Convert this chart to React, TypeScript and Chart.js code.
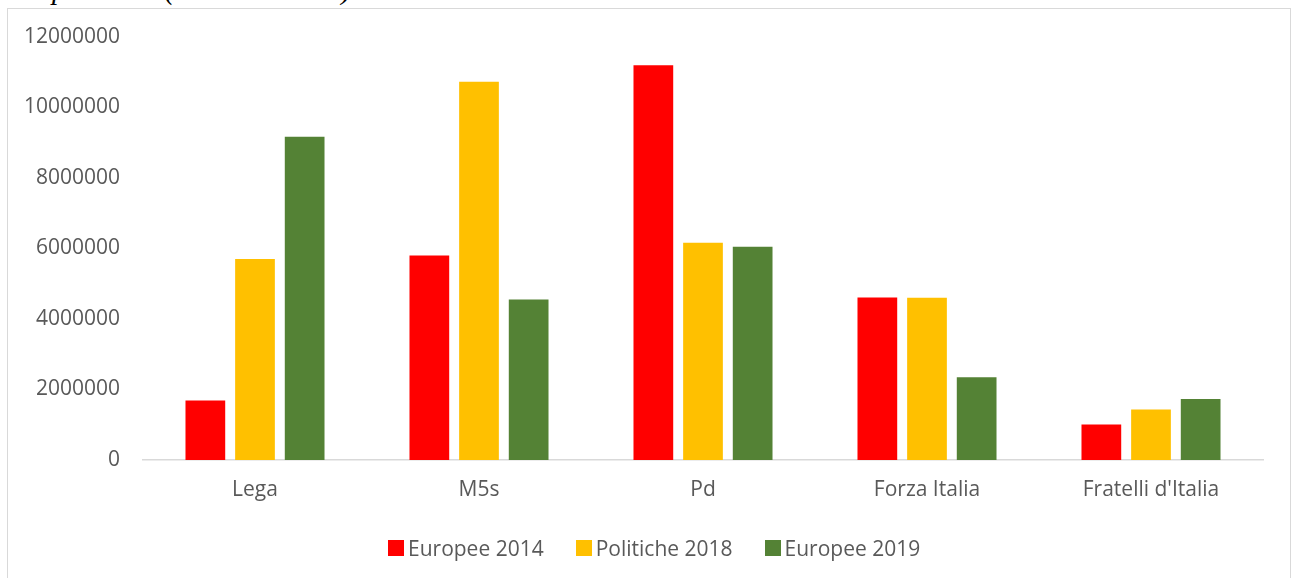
import React, { useEffect, useRef } from "react";
import { Chart, registerables } from "chart.js";

Chart.register(...registerables);

const categories = ["Lega", "M5s", "Pd", "Forza Italia", "Fratelli d'Italia"];
const seriesNames = ["Europee 2014", "Politiche 2018", "Europee 2019"];
const europee2014 = [1690000, 5800000, 11200000, 4610000, 1010000];
const politiche2018 = [5700000, 10730000, 6160000, 4600000, 1430000];
const europee2019 = [9170000, 4550000, 6050000, 2350000, 1730000];
const seriesColors = ["#FF0000", "#FFC000", "#548235"];
const yTicks = [0, 2000000, 4000000, 6000000, 8000000, 10000000, 12000000];

const FONT = "'Open Sans', 'Noto Sans', sans-serif";
const TEXT = "#595959";

export default function App() {
  const ref = useRef<HTMLCanvasElement | null>(null);

  useEffect(() => {
    if (!ref.current) return;
    const values = [europee2014, politiche2018, europee2019];
    const chart = new Chart(ref.current, {
      type: "bar",
      data: {
        labels: categories,
        datasets: seriesNames.map((name, i) => ({
          label: name,
          data: values[i],
          backgroundColor: seriesColors[i],
          borderWidth: 0,
          categoryPercentage: 0.665,
          barPercentage: 0.8,
        })),
      },
      options: {
        animation: false,
        responsive: true,
        maintainAspectRatio: false,
        layout: { padding: { left: 0, right: 27, top: 28, bottom: 0 } },
        plugins: {
          legend: { display: false },
          tooltip: { enabled: false },
          title: { display: false },
        },
        scales: {
          x: {
            grid: { display: false, drawTicks: false },
            border: { display: true, color: "#d9d9d9", width: 1.5 },
            ticks: {
              color: TEXT,
              font: { family: FONT, size: 21 },
              padding: 17,
              maxRotation: 0,
            },
            afterFit: (axis: any) => {
              axis.height = 118;
              axis.paddingLeft = 0;
              axis.paddingRight = 0;
            },
          },
          y: {
            min: yTicks[0],
            max: yTicks[yTicks.length - 1],
            grid: { display: false, drawTicks: false },
            border: { display: false },
            afterBuildTicks: (axis: any) => {
              axis.ticks = yTicks.map((v) => ({ value: v }));
            },
            ticks: {
              color: TEXT,
              font: { family: FONT, size: 21 },
              padding: 23,
              callback: (v: any) => String(v),
            },
            afterFit: (axis: any) => {
              axis.width = 135;
              axis.paddingTop = 0;
              axis.paddingBottom = 0;
            },
          },
        },
      },
    });
    return () => chart.destroy();
  }, []);

  return (
    <div
      style={{
        position: "fixed",
        left: 0,
        top: 0,
        width: 1292,
        height: 578,
        overflow: "hidden",
        background: "#fff",
      }}
    >
      <div
        style={{
          position: "absolute",
          left: 7,
          top: 8,
          width: 1284,
          height: 580,
          boxSizing: "border-box",
          borderTop: "1px solid #d9d9d9",
          borderLeft: "1px solid #d9d9d9",
          borderRight: "1px solid #d9d9d9",
          background: "#fff",
        }}
      >
        <div style={{ position: "relative", width: 1282, height: 569 }}>
          <canvas ref={ref} />
        </div>
        <div
          style={{
            position: "absolute",
            left: 380,
            top: 531,
            height: 16,
            display: "flex",
            alignItems: "center",
            gap: 32,
            fontFamily: FONT,
            fontSize: 21,
            color: TEXT,
            whiteSpace: "nowrap",
          }}
        >
          {seriesNames.map((name, i) => (
            <div key={name} style={{ display: "flex", alignItems: "center", gap: 4 }}>
              <span
                style={{
                  display: "inline-block",
                  width: 16,
                  height: 16,
                  background: seriesColors[i],
                }}
              />
              <span style={{ lineHeight: "16px" }}>{name}</span>
            </div>
          ))}
        </div>
      </div>
      <div
        style={{
          position: "absolute",
          left: 0,
          top: -25,
          fontFamily: "'Liberation Serif', 'Times New Roman', serif",
          fontStyle: "italic",
          fontSize: 29,
          lineHeight: "29px",
          whiteSpace: "nowrap",
          color: "#000",
        }}
      >
        europee 2019 (valori assoluti)
      </div>
    </div>
  );
}
